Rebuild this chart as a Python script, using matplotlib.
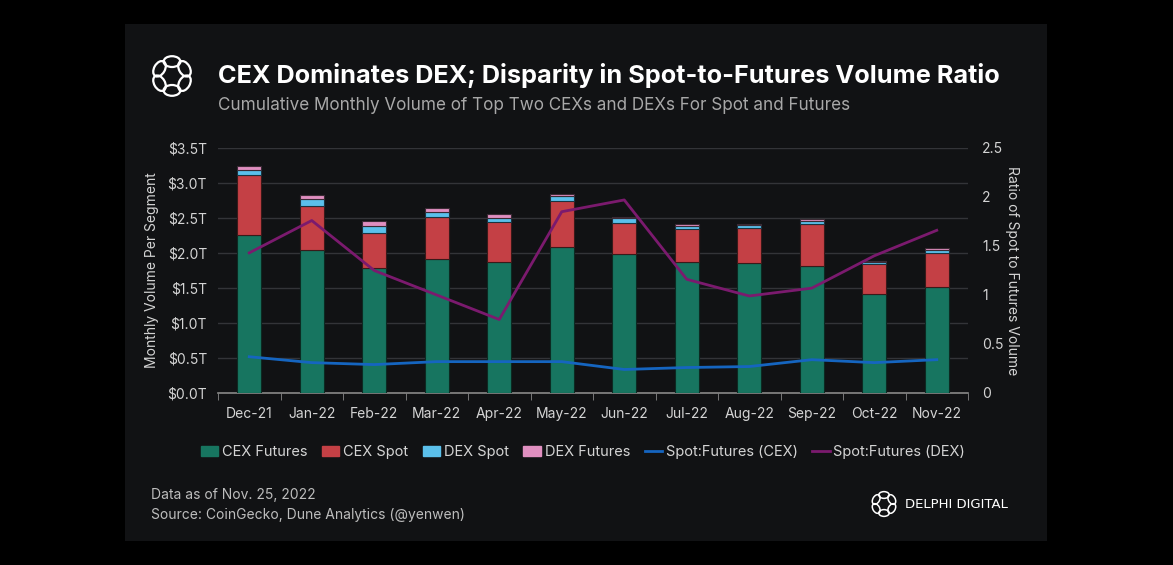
import matplotlib.pyplot as plt
import numpy as np
from matplotlib.patches import Rectangle, Ellipse, Patch
from matplotlib.lines import Line2D

plt.rcParams['font.family'] = ['Inter', 'DejaVu Sans']

months = ["Dec-21", "Jan-22", "Feb-22", "Mar-22", "Apr-22", "May-22",
          "Jun-22", "Jul-22", "Aug-22", "Sep-22", "Oct-22", "Nov-22"]
# volumes in $T
cex_futures = [2.26, 2.05, 1.79, 1.91, 1.87, 2.09, 1.98, 1.87, 1.86, 1.82, 1.42, 1.51]
cex_spot = [0.85, 0.62, 0.50, 0.60, 0.58, 0.66, 0.45, 0.48, 0.50, 0.60, 0.43, 0.49]
dex_spot = [0.07, 0.10, 0.09, 0.07, 0.05, 0.07, 0.07, 0.04, 0.04, 0.04, 0.02, 0.04]
dex_futures = [0.06, 0.06, 0.08, 0.07, 0.06, 0.03, 0.01, 0.03, 0.02, 0.02, 0.02, 0.03]
# spot to futures ratios
ratio_cex = [0.37, 0.31, 0.29, 0.32, 0.32, 0.32, 0.24, 0.26, 0.27, 0.34, 0.31, 0.34]
ratio_dex = [1.43, 1.76, 1.25, 1.00, 0.75, 1.85, 1.97, 1.16, 0.99, 1.07, 1.40, 1.66]

c_fut = "#177560"
c_spot = "#c44045"
c_dspot = "#5bc0eb"
c_dfut = "#e08fc0"
c_lcex = "#1565c0"
c_ldex = "#7b1a6e"
txt = "#d4d4d4"
panel = "#111214"

fig = plt.figure(figsize=(11.73, 5.65), dpi=100)
fig.patch.set_facecolor("black")
fig.patches.append(Rectangle((125 / 1173, 1 - 541 / 565), 922 / 1173, 517 / 565,
                             transform=fig.transFigure, facecolor=panel, zorder=-10))

ax = fig.add_axes([218 / 1173, 1 - 393 / 565, 750 / 1173, 245 / 565])
ax.set_facecolor(panel)
x = np.arange(len(months))
w = 0.39
b1 = np.array(cex_futures)
b2 = b1 + np.array(cex_spot)
b3 = b2 + np.array(dex_spot)
ax.bar(x, cex_futures, w, color=c_fut, edgecolor="#0c2a22", linewidth=0.8, zorder=3)
ax.bar(x, cex_spot, w, bottom=b1, color=c_spot, edgecolor="#3a1a1a", linewidth=0.8, zorder=3)
ax.bar(x, dex_spot, w, bottom=b2, color=c_dspot, edgecolor="#1b3440", linewidth=0.8, zorder=3)
ax.bar(x, dex_futures, w, bottom=b3, color=c_dfut, edgecolor="#3a2a34", linewidth=0.8, zorder=3)

ax.set_xlim(-0.5, len(months) - 0.5)
ax.set_ylim(0, 3.5)
ax.set_yticks(np.arange(0, 3.51, 0.5))
ax.set_yticklabels(["$%.1fT" % v for v in np.arange(0, 3.51, 0.5)])
ax.set_xticks(x)
ax.set_xticklabels(months)
ax.set_xticks(np.arange(-0.5, len(months), 1), minor=True)
ax.tick_params(axis="x", which="major", length=0, colors=txt, labelsize=10, pad=10)
ax.tick_params(axis="x", which="minor", length=5, color="#888888", direction="out")
ax.tick_params(axis="y", length=0, colors=txt, labelsize=10, pad=8)
ax.grid(axis="y", color="#333438", linewidth=1, zorder=0)
for s in ["top", "right", "left"]:
    ax.spines[s].set_visible(False)
ax.spines["bottom"].set_color("#888888")
ax.spines["bottom"].set_linewidth(1.2)
ax.set_ylabel("Monthly Volume Per Segment", color=txt, fontsize=10, labelpad=6)

ax2 = ax.twinx()
ax2.plot(x, ratio_cex, color=c_lcex, linewidth=2, zorder=5)
ax2.plot(x, ratio_dex, color=c_ldex, linewidth=2, zorder=5)
ax2.set_ylim(0, 2.5)
ax2.set_yticks([0, 0.5, 1, 1.5, 2, 2.5])
ax2.set_yticklabels(["0", "0.5", "1", "1.5", "2", "2.5"])
ax2.tick_params(axis="y", length=0, colors=txt, labelsize=10, pad=10)
for s in ["top", "right", "left", "bottom"]:
    ax2.spines[s].set_visible(False)
ax2.set_ylabel("Ratio of Spot to Futures Volume", color=txt, fontsize=10,
               rotation=270, va="center", ha="center")
ax2.yaxis.set_label_coords((1012 - 218) / 750, 0.5)

handles = [Patch(color=c_fut), Patch(color=c_spot), Patch(color=c_dspot), Patch(color=c_dfut),
           Line2D([], [], color=c_lcex, lw=2), Line2D([], [], color=c_ldex, lw=2)]
labels = ["CEX Futures", "CEX Spot", "DEX Spot", "DEX Futures",
          "Spot:Futures (CEX)", "Spot:Futures (DEX)"]
fig.legend(handles, labels, loc="center", bbox_to_anchor=(583 / 1173, 1 - 452 / 565),
           ncol=6, frameon=False, fontsize=10.5, labelcolor=txt, handlelength=1.2,
           handletextpad=0.25, columnspacing=1.0)

fig.text(218 / 1173, 1 - 75 / 565, "CEX Dominates DEX; Disparity in Spot-to-Futures Volume Ratio",
         color="white", fontsize=18.2, fontweight="bold", va="center")
fig.text(218 / 1173, 1 - 106 / 565, "Cumulative Monthly Volume of Top Two CEXs and DEXs For Spot and Futures",
         color="#a8a8a8", fontsize=12.3, va="center")
fig.text(151 / 1173, 1 - 495 / 565, "Data as of Nov. 25, 2022", color="#bdbdbd", fontsize=10, va="center")
fig.text(151 / 1173, 1 - 515 / 565, "Source: CoinGecko, Dune Analytics (@yenwen)", color="#bdbdbd",
         fontsize=10, va="center")
fig.text(905 / 1173, 1 - 504 / 565, "DELPHI DIGITAL", color="white", fontsize=9.5,
         va="center", fontweight="medium", fontfamily="DejaVu Sans")


def logo(cx, cy, r, lw):
    # ring of interlocking loops, placed in pixel coords
    lax = fig.add_axes([(cx - r) / 1173, 1 - (cy + r) / 565, 2 * r / 1173, 2 * r / 565])
    lax.set_xlim(-1, 1)
    lax.set_ylim(-1, 1)
    lax.axis("off")
    for k in range(6):
        a = np.deg2rad(k * 60 + 30)
        lax.add_patch(Ellipse((0.6 * np.cos(a), 0.6 * np.sin(a)), 0.7, 0.45,
                              angle=np.rad2deg(a) + 90, fill=False, edgecolor="white",
                              linewidth=lw))


logo(172, 76, 24, 1.6)
logo(884, 504, 15, 1.1)

fig.savefig("out.png", dpi=100, facecolor=fig.get_facecolor())
